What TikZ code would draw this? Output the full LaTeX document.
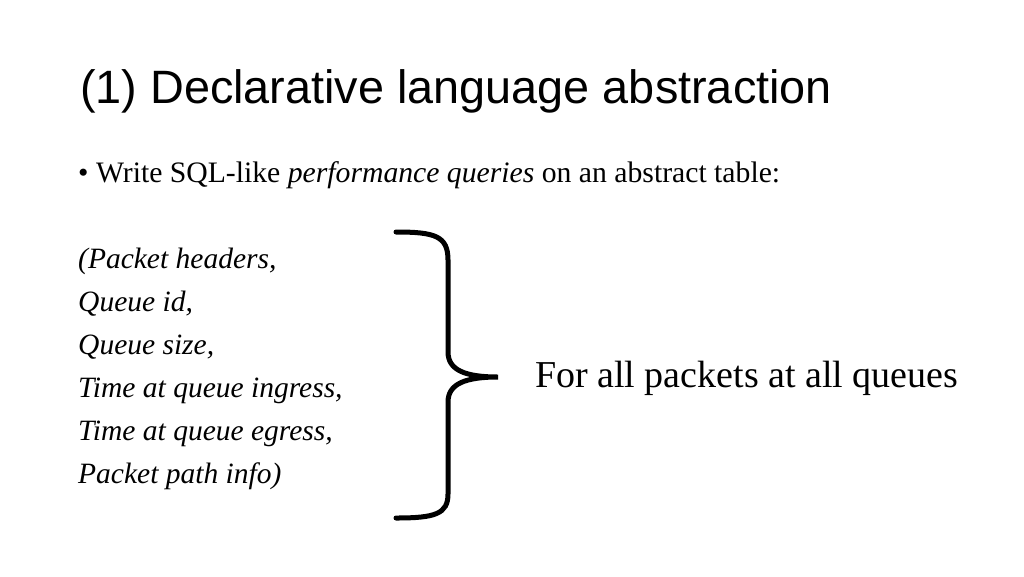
\documentclass[tikz,border=0pt]{standalone}
\usepackage{fontspec}
\setmainfont{Liberation Serif}
\newfontfamily\titlefont{Liberation Sans}
\begin{document}
\begin{tikzpicture}[x=1pt,y=-1pt,
  txt/.style={anchor=base west,inner sep=0pt,font=\fontsize{29.5}{32}\selectfont\itshape}]
\useasboundingbox (0,0) rectangle (1024,576);
\node[anchor=base west,inner sep=0pt,font=\titlefont\fontsize{46.8}{50}\selectfont] (title) at (80,103) {(1) Declarative language abstraction};
\node[anchor=base west,inner sep=0pt,font=\fontsize{29.7}{32}\selectfont] (bullet) at (78,182) {\textbullet\ Write SQL-like \textit{performance queries} on an abstract table:};
\node[txt] (l1) at (78,268) {(Packet headers,};
\node[txt] (l2) at (78,311) {Queue id,};
\node[txt] (l3) at (78,354) {Queue size,};
\node[txt] (l4) at (78,397) {Time at queue ingress,};
\node[txt] (l5) at (78,440) {Time at queue egress,};
\node[txt] (l6) at (78,483) {Packet path info)};
\node[anchor=base west,inner sep=0pt,font=\fontsize{38}{40}\selectfont] (all) at (535,387) {For all packets at all queues};
\draw[line width=5pt,line cap=round]
  (396,232) .. controls (435,232) and (448,236) .. (448,260)
  -- (448,352) .. controls (448,370) and (465,377) .. (498,377)
  .. controls (465,377) and (448,384) .. (448,402)
  -- (448,494) .. controls (448,514) and (435,518) .. (396,518);
\end{tikzpicture}
\end{document}
